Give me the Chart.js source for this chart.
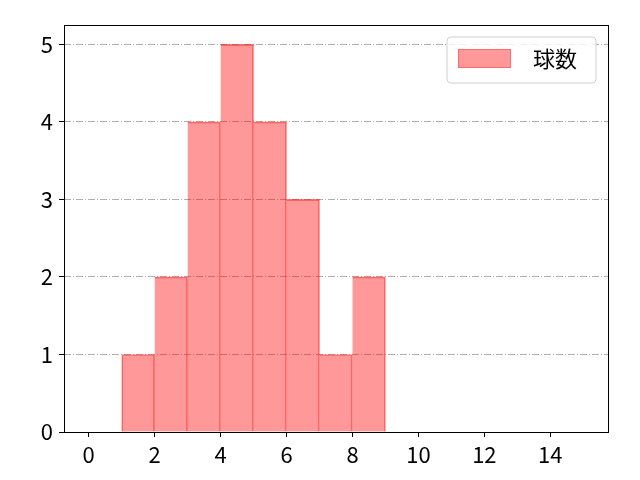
<!DOCTYPE html>
<html>
<head>
<meta charset="utf-8">
<script src="https://cdn.jsdelivr.net/npm/chart.js@4"></script>
<style>
  html, body { margin: 0; padding: 0; background: #fff; }
</style>
</head>
<body>
<canvas id="histChart" width="640" height="480"></canvas>
<script>
var binStarts = [1, 2, 3, 4, 5, 6, 7, 8];
var counts = [1, 2, 4, 5, 4, 3, 1, 2];
var xTicks = [0, 2, 4, 6, 8, 10, 12, 14];
var yTicks = [0, 1, 2, 3, 4, 5];
var seriesLabel = '球数';

var FONT = '"Noto Sans CJK JP", "Noto Sans", sans-serif';
var fillColor = 'rgba(255, 0, 0, 0.4)';
var edgeColor = 'rgba(255, 0, 0, 0.5)';

var points = [];
binStarts.forEach(function (start, i) {
    points.push({ x: start + 0.5, y: counts[i] });
});

// frame + legend drawn by hand (matplotlib style)
var framePlugin = {
    id: 'frame',
    afterDraw: function (chart) {
        var c = chart.ctx;
        var a = chart.chartArea;
        c.save();
        c.strokeStyle = '#000';
        c.lineWidth = 1;
        c.strokeRect(Math.round(a.left) + 0.5, Math.round(a.top) + 0.5,
            Math.round(a.right - a.left), Math.round(a.bottom - a.top));

        // legend
        var bx = 447, by = 37, bw = 149, bh = 46, r = 4;
        c.beginPath();
        c.moveTo(bx + r, by);
        c.arcTo(bx + bw, by, bx + bw, by + bh, r);
        c.arcTo(bx + bw, by + bh, bx, by + bh, r);
        c.arcTo(bx, by + bh, bx, by, r);
        c.arcTo(bx, by, bx + bw, by, r);
        c.closePath();
        c.fillStyle = 'rgba(255,255,255,0.8)';
        c.fill();
        c.strokeStyle = '#d0d0d0';
        c.stroke();

        c.fillStyle = fillColor;
        c.fillRect(458, 49, 53, 19);
        c.strokeStyle = 'rgba(255, 0, 0, 0.3)';
        c.strokeRect(458.5, 49.5, 52, 18);

        c.fillStyle = '#000';
        c.font = '22px ' + FONT;
        c.textBaseline = 'middle';
        c.textAlign = 'left';
        c.fillText(chart.data.datasets[0].label, 533, 59);
        c.restore();
    }
};

var histChart = new Chart(document.getElementById('histChart'), {
    type: 'bar',
    data: {
        datasets: [{
            label: seriesLabel,
            data: points,
            backgroundColor: fillColor,
            borderColor: edgeColor,
            borderWidth: function (ctx) {
                return { left: ctx.dataIndex === 0 ? 1 : 0, right: 1, top: 1, bottom: 0 };
            },
            borderSkipped: false,
            barPercentage: 1,
            categoryPercentage: 1
        }]
    },
    options: {
        responsive: false,
        animation: false,
        devicePixelRatio: 1,
        layout: { padding: { left: 0, right: 32, top: 25, bottom: 0 } },
        plugins: {
            legend: { display: false },
            tooltip: { enabled: false }
        },
        scales: {
            x: {
                type: 'linear',
                min: -0.75,
                max: 15.75,
                offset: false,
                afterBuildTicks: function (axis) {
                    axis.ticks = xTicks.map(function (v) { return { value: v }; });
                },
                afterFit: function (axis) { axis.height = 48; },
                grid: {
                    offset: false,
                    drawOnChartArea: false,
                    tickLength: 5,
                    tickColor: '#000'
                },
                border: { display: false },
                ticks: {
                    color: '#000',
                    padding: 4,
                    maxRotation: 0,
                    font: { family: FONT, size: 22 }
                }
            },
            y: {
                min: 0,
                max: 5.25,
                afterBuildTicks: function (axis) {
                    axis.ticks = yTicks.map(function (v) { return { value: v }; });
                },
                afterFit: function (axis) { axis.width = 64; },
                grid: {
                    color: '#b0b0b0',
                    lineWidth: 1,
                    tickLength: 5,
                    tickColor: '#000',
                    tickBorderDash: []
                },
                border: { display: false, dash: [7, 2, 1, 2] },
                ticks: {
                    color: '#000',
                    padding: 6,
                    font: { family: FONT, size: 22 }
                }
            }
        }
    },
    plugins: [framePlugin]
});
</script>
</body>
</html>
